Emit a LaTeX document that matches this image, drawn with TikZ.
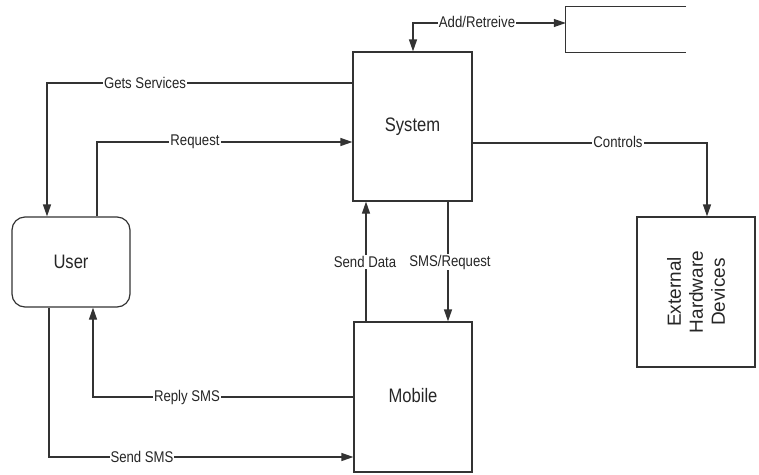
\documentclass[tikz,border=0pt]{standalone}
\usepackage{fontspec}
\setmainfont{Liberation Sans}
\newfontfamily\narrowfont[FakeStretch=0.85]{Liberation Sans}
\usetikzlibrary{arrows.meta}
\begin{document}
\begin{tikzpicture}[x=1pt,y=-1pt,
  box/.style={draw=black!80,line width=1.2pt,rectangle,inner sep=0pt},
  conn/.style={draw=black!80,line width=1.2pt,-{Triangle[length=12pt,width=8pt]}},
  conn2/.style={draw=black!80,line width=1.2pt,{Triangle[length=12pt,width=8pt]}-{Triangle[length=12pt,width=8pt]}},
  lbl/.style={fill=white,inner sep=1pt,font=\narrowfont\fontsize{15.5}{17}\selectfont,text=black!85},
  big/.style={font=\narrowfont\fontsize{19.5}{22}\selectfont,text=black!85}]
\useasboundingbox (0,0) rectangle (759,474);
% nodes
\node[box,minimum width=119pt,minimum height=149pt] (sys) at (412.5,126.5) {};
\node[big] (systxt) at (412.5,127) {System};
\node[inner sep=0pt,minimum width=120pt,minimum height=45pt] (store) at (626,29.5) {};
\draw[draw=black!80,line width=1.2pt] (store.north east) -- (store.north west) -- (store.south west) -- (store.south east);
\node[box,rounded corners=13pt,minimum width=118pt,minimum height=90pt] (user) at (71,262) {};
\node[big] (usertxt) at (71,262) {User};
\node[box,minimum width=118pt,minimum height=150pt] (mob) at (413,397) {};
\node[big] (mobtxt) at (413,396) {Mobile};
\node[box,minimum width=118pt,minimum height=150pt] (ext) at (696,292) {};
\node[rotate=90,align=center,font=\fontsize{19}{22}\selectfont,text=black!85] (exttxt) at (696,292) {External\\Hardware\\Devices};
% helper coordinates
\coordinate (ar) at (413,23);
\coordinate (gs) at (47,83);
\coordinate (rq) at (97,142);
\coordinate (ct) at (707,143);
\coordinate (sd) at (366,262);
\coordinate (sr) at (448,262);
\coordinate (rp) at (93,397);
\coordinate (ss) at (49,457);
% connectors
\draw[conn2] (store.west |- ar) -| (sys.north -| ar);
\node[lbl] (lar) at (477,22) {Add/Retreive};
\draw[conn] (sys.west |- gs) -| (user.north -| gs);
\node[lbl] (lgs) at (145,83) {Gets Services};
\draw[conn] (user.north -| rq) |- (sys.west |- rq);
\node[lbl] (lrq) at (195,142) {Request};
\draw[conn] (sys.east |- ct) -| (ext.north -| ct);
\node[lbl] (lct) at (618,142) {Controls};
\draw[conn] (mob.north -| sd) -- (sys.south -| sd);
\node[lbl] (lsd) at (365,262) {Send Data};
\draw[conn] (sys.south -| sr) -- (mob.north -| sr);
\node[lbl] (lsr) at (450,262) {SMS/Request};
\draw[conn] (mob.west |- rp) -| (user.south -| rp);
\node[lbl] (lrp) at (187,397) {Reply SMS};
\draw[conn] (user.south -| ss) |- (mob.west |- ss);
\node[lbl] (lss) at (142,457) {Send SMS};
\end{tikzpicture}
\end{document}
